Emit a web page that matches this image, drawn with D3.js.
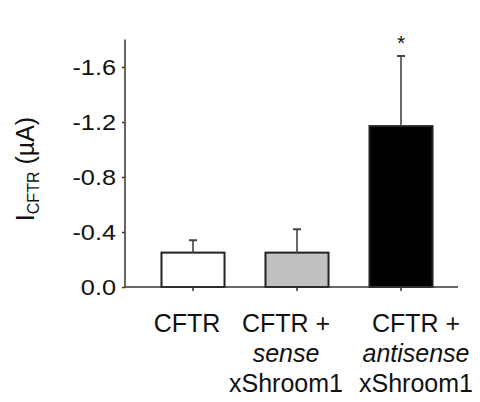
<!DOCTYPE html>
<html>
<head>
<meta charset="utf-8">
<script src="https://cdn.jsdelivr.net/npm/d3@7"></script>
<style>
  html, body { margin: 0; padding: 0; background: #fff; }
  svg { display: block; font-family: "Liberation Sans", Arial, sans-serif; }
</style>
</head>
<body>
<svg id="chart" width="480" height="402"></svg>
<script>
// Groups and measured currents (µA, inward current is negative)
const groups = ["CFTR", "CFTR + sense xShroom1", "CFTR + antisense xShroom1"];
const labelLines = [
  [["CFTR", false]],
  [["CFTR +", false], ["sense", true], ["xShroom1", false]],
  [["CFTR +", false], ["antisense", true], ["xShroom1", false]]
];
const means = [-0.25, -0.25, -1.17];
const errors = [0.09, 0.17, 0.51];
const fills = ["#ffffff", "#c0c0c0", "#000000"];
const marks = ["", "", "*"];
const yTicks = [0, -0.4, -0.8, -1.2, -1.6];

const svg = d3.select("#chart");
const axisColor = "#333";

const x = d3.scaleBand()
  .domain(groups)
  .range([141, 453])
  .paddingInner(0.394)
  .paddingOuter(0.197);

const y = d3.scaleLinear()
  .domain([0, -1.8])
  .range([287, 39.5]);

// Bars
svg.selectAll("rect.bar")
  .data(groups)
  .join("rect")
  .attr("class", "bar")
  .attr("x", d => x(d))
  .attr("width", x.bandwidth())
  .attr("y", (d, i) => y(means[i]))
  .attr("height", (d, i) => y(0) - y(means[i]))
  .attr("fill", (d, i) => fills[i])
  .attr("stroke", "#222")
  .attr("stroke-width", 2);

// Error bars (one-sided, away from zero)
const err = svg.append("g").attr("stroke", "#444").attr("stroke-width", 1.6);
groups.forEach((g, i) => {
  const cx = x(g) + x.bandwidth() / 2;
  const top = y(means[i] - errors[i]);
  err.append("line")
    .attr("x1", cx).attr("x2", cx)
    .attr("y1", y(means[i])).attr("y2", top);
  err.append("line")
    .attr("x1", cx - 4).attr("x2", cx + 4)
    .attr("y1", top).attr("y2", top)
    .attr("stroke-width", 2);
});

// Significance marks
svg.selectAll("text.sig")
  .data(groups)
  .join("text")
  .attr("class", "sig")
  .attr("x", d => x(d) + x.bandwidth() / 2)
  .attr("y", (d, i) => y(means[i] - errors[i]) - 6)
  .attr("text-anchor", "middle")
  .attr("font-size", 21)
  .attr("fill", "#111")
  .text((d, i) => marks[i]);

// Y axis
const yAxis = d3.axisLeft(y)
  .tickValues(yTicks)
  .tickFormat(d => d.toFixed(1))
  .tickSize(3)
  .tickPadding(5);

const yg = svg.append("g")
  .attr("transform", `translate(${125},0)`)
  .call(yAxis);
yg.select(".domain").attr("d", `M-0,${y(-1.8)}V${y(0)}`).attr("stroke", axisColor).attr("stroke-width", 1.5);
yg.selectAll(".tick line").attr("stroke", axisColor).attr("stroke-width", 1.5);
yg.selectAll(".tick text")
  .attr("font-size", 22)
  .attr("fill", "#111")
  .attr("font-family", "Liberation Sans, Arial, sans-serif")
  .attr("transform", "scale(1.15,1)")
  .attr("x", -9 / 1.15)
  .attr("dy", "0.36em");

// X axis
const xAxis = d3.axisBottom(x).tickSize(4).tickFormat("");
const xg = svg.append("g")
  .attr("transform", `translate(0,${y(0)})`)
  .call(xAxis);
xg.select(".domain").attr("d", `M125,0H458`).attr("stroke", axisColor).attr("stroke-width", 1.5);
xg.selectAll(".tick line").attr("stroke", axisColor).attr("stroke-width", 1.5);

// Category labels
const labelShift = [-6, -11, 15];
groups.forEach((g, i) => {
  const cx = x(g) + x.bandwidth() / 2 + labelShift[i];
  const t = svg.append("text")
    .attr("text-anchor", "middle")
    .attr("font-size", 25)
    .attr("fill", "#111");
  labelLines[i].forEach(([line, ital], j) => {
    t.append("tspan")
      .attr("x", cx)
      .attr("y", 332 + j * 30)
      .attr("font-style", ital ? "italic" : "normal")
      .text(line);
  });
});

// Y axis title: I with CFTR subscript
const yt = svg.append("text")
  .attr("transform", "translate(34,169) rotate(-90)")
  .attr("text-anchor", "middle")
  .attr("font-size", 25)
  .attr("fill", "#111");
yt.append("tspan").text("I");
yt.append("tspan").attr("font-size", 16).attr("dy", 5).text("CFTR");
yt.append("tspan").attr("dy", -5).text(" (µA)");
</script>
</body>
</html>
